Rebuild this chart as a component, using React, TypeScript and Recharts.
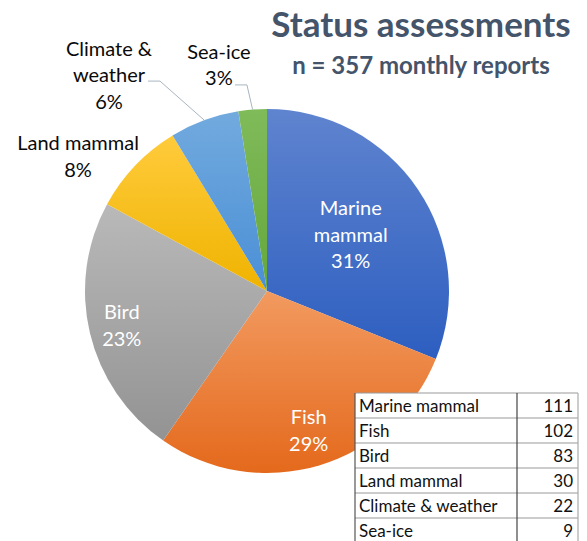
import React from 'react';
import { PieChart, Pie, Cell } from 'recharts';

// ---- data ----
const categories = ['Marine mammal', 'Fish', 'Bird', 'Land mammal', 'Climate & weather', 'Sea-ice'];
const counts = [111, 102, 83, 30, 22, 9];
const labelLines = [['Marine', 'mammal'], ['Fish'], ['Bird'], ['Land mammal'], ['Climate &', 'weather'], ['Sea-ice']];
const titleText = 'Status assessments';
const subtitleText = 'n = 357 monthly reports';

// ---- styles ----
const colorsTop = ['#5f84cf', '#f29a60', '#b9b9b9', '#ffcb3c', '#72aade', '#80bb5a'];
const colorsBottom = ['#2d5ec0', '#e4691c', '#939393', '#efb300', '#4a8fd6', '#65a73c'];
const FONT = 'Lato, "Noto Sans", sans-serif';
const RAD = Math.PI / 180;

const data = categories.map((name, i) => ({ name, value: counts[i] }));

const labelLayout: any[] = [
  { inside: true, rf: 0.555 },
  { inside: true, rf: 0.8 },
  { inside: true, rf: 0.82 },
  { inside: false, angle: 144.5, rf: 1.275 },
  { inside: false, angle: 126.2, rf: 1.47, leader: [39, 6, 51, 6] },
  { inside: false, angle: 102, rf: 1.27, leader: [16, 20, 28, 20] },
];

const renderLabel = (props: any) => {
  const { cx, cy, midAngle, outerRadius, percent, index } = props;
  const L = labelLayout[index];
  const ang = L.inside ? midAngle : L.angle;
  const r = outerRadius * L.rf;
  const x = cx + r * Math.cos(-ang * RAD);
  const y = cy + r * Math.sin(-ang * RAD);
  const lines = [...labelLines[index], `${Math.round(percent * 100)}%`];
  const lh = 26.5;
  const y0 = y - ((lines.length - 1) * lh) / 2;
  let leader = null;
  if (L.leader) {
    const ex = cx + outerRadius * Math.cos(-midAngle * RAD);
    const ey = cy + outerRadius * Math.sin(-midAngle * RAD);
    leader = (
      <polyline
        points={`${x + L.leader[0]},${y + L.leader[1]} ${x + L.leader[2]},${y + L.leader[3]} ${ex},${ey}`}
        fill="none"
        stroke="#a9b5c2"
        strokeWidth={1}
      />
    );
  }
  return (
    <g key={`lbl-${index}`}>
      {leader}
      <text textAnchor="middle" fill={L.inside ? '#ffffff' : '#0a0a0a'} fontSize={20} fontFamily={FONT}>
        {lines.map((t, k) => (
          <tspan key={k} x={x} y={y0 + k * lh} dy="0.36em">
            {t}
          </tspan>
        ))}
      </text>
    </g>
  );
};

const tableX = 355;
const tableY = 393;
const col1W = 162;
const col2W = 61;
const rowH = 25;

export default function App() {
  return (
    <div style={{ position: 'absolute', left: 0, top: 0, width: 587, height: 541, overflow: 'hidden', background: '#fff' }}>
      <svg width={0} height={0} style={{ position: 'absolute' }}>
        <defs>
          {categories.map((_, i) => (
            <linearGradient key={i} id={`grad${i}`} x1="0" y1="0" x2="0" y2="1">
              <stop offset="0%" stopColor={colorsTop[i]} />
              <stop offset="100%" stopColor={colorsBottom[i]} />
            </linearGradient>
          ))}
        </defs>
      </svg>
      <div style={{ position: 'absolute', left: 0, top: 0 }}>
        <PieChart width={587} height={541}>
          <Pie
            data={data}
            dataKey="value"
            nameKey="name"
            cx={262}
            cy={286}
            outerRadius={182}
            startAngle={90}
            endAngle={-270}
            stroke="none"
            label={renderLabel}
            labelLine={false}
            isAnimationActive={false}
          >
            {data.map((_, i) => (
              <Cell key={i} fill={`url(#grad${i})`} />
            ))}
          </Pie>
        </PieChart>
      </div>
      <svg width={587} height={541} style={{ position: 'absolute', left: 0, top: 0, pointerEvents: 'none' }}>
        <text x={421} y={37} textAnchor="middle" fontFamily={FONT} fontWeight={700} fontSize={35} fill="#44546A">
          {titleText}
        </text>
        <text x={421} y={74} textAnchor="middle" fontFamily={FONT} fontWeight={700} fontSize={24} fill="#44546A">
          {subtitleText}
        </text>
        <rect x={tableX} y={tableY} width={col1W + col2W} height={rowH * categories.length + 4} fill="#ffffff" />
        {categories.map((c, i) => (
          <g key={c}>
            <line x1={tableX} x2={tableX + col1W + col2W} y1={tableY + i * rowH} y2={tableY + i * rowH} stroke="#9a9a9a" strokeWidth={1.2} />
            <text x={tableX + 4} y={tableY + i * rowH + 18.5} fontFamily={FONT} fontSize={17} fill="#111">
              {c}
            </text>
            <text x={tableX + col1W + col2W - 5} y={tableY + i * rowH + 18.5} textAnchor="end" fontFamily={FONT} fontSize={17} fill="#111">
              {counts[i]}
            </text>
          </g>
        ))}
        <line x1={tableX} x2={tableX} y1={tableY} y2={541} stroke="#555" strokeWidth={1.2} />
        <line x1={tableX + col1W} x2={tableX + col1W} y1={tableY} y2={541} stroke="#444" strokeWidth={1.2} />
        <line x1={tableX + col1W + col2W} x2={tableX + col1W + col2W} y1={tableY} y2={541} stroke="#aaa" strokeWidth={1.2} />
      </svg>
    </div>
  );
}
